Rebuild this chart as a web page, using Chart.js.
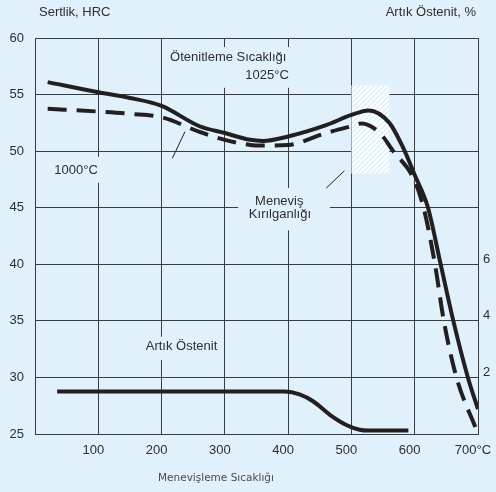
<!DOCTYPE html>
<html><head><meta charset="utf-8">
<script src="https://cdn.jsdelivr.net/npm/chart.js@4/dist/chart.umd.min.js"></script>
<style>
html,body{margin:0;padding:0;background:#e0f1fb;}
#wrap{width:496px;height:492px;position:relative;}
</style></head><body>
<div id="wrap"><canvas id="c" width="496" height="492"></canvas></div>
<script>
// ---- data ----
const temperatureTicks = [100, 200, 300, 400, 500, 600, 700];
const hardnessTicks = [25, 30, 35, 40, 45, 50, 55, 60];
const austeniteTicks = [2, 4, 6];

// Hardness after austenitizing at 1025°C (solid)
const temps1025 = [20, 100, 150, 200, 260, 300, 340, 360, 400, 460, 500, 527, 560, 580, 600, 621, 641, 661, 684, 700];
const hrc1025   = [56.1, 55.2, 54.7, 54.0, 52.2, 51.6, 51.0, 50.9, 51.3, 52.3, 53.2, 53.6, 52.5, 50.5, 47.9, 45.0, 40, 35.0, 30, 27.2];

// Hardness after austenitizing at 1000°C (dashed)
const temps1000 = [20, 100, 150, 200, 260, 300, 340, 360, 400, 460, 500, 516, 545, 566, 598, 614, 632, 646, 666, 698];
const hrc1000   = [53.75, 53.5, 53.3, 53.0, 51.7, 51.0, 50.55, 50.5, 50.55, 51.6, 52.2, 52.45, 51.6, 50.0, 47.6, 45, 40, 35, 30, 25.3];

// Retained austenite, % (right axis)
const tempsAustenite = [35, 395, 418, 440, 466, 492, 513, 526, 590];
const austenitePct   = [1.5, 1.5, 1.4, 1.15, 0.68, 0.32, 0.15, 0.12, 0.12];

// Temper embrittlement range (hatched)
const embrittlementTemps = [500, 560];
const embrittlementHrc = [48, 55.8];

// ---- annotations (data coordinates) ----
const textBoxes = [
  {x0: 210, x1: 403, y0: 55.6, y1: 59.2},
  {x0: 24, x1: 103, y0: 47.2, y1: 49.5},
  {x0: 321, x1: 466, y0: 43.0, y1: 46.75},
  {x0: 166, x1: 296, y0: 31.55, y1: 33.6}
];
const textLabels = [
  {text: 'Ötenitleme Sıcaklığı', x: 213.5, y: 58.29, align: 'left'},
  {text: '1025°C', x: 401, y: 56.7, align: 'right'},
  {text: '1000°C', x: 30.5, y: 48.33, align: 'left'},
  {text: 'Meneviş', x: 386, y: 45.53, align: 'center'},
  {text: 'Kırılganlığı', x: 387, y: 44.44, align: 'center'},
  {text: 'Artık Östenit', x: 175, y: 32.72, align: 'left'}
];
const leaders = [
  {x0: 217, y0: 49.37, x1: 237, y1: 51.72},
  {x0: 460, y0: 46.72, x1: 489, y1: 48.27}
];

const INK = '#231f20';
const TEXT = '#2e2e2e';
const GRID = '#3c3c3c';
const FONT = '"Liberation Sans", Arial, sans-serif';

function hatchPattern(ctx){
  const p = document.createElement('canvas');
  p.width = 5; p.height = 5;
  const g = p.getContext('2d');
  g.fillStyle = '#ffffff'; g.fillRect(0,0,5,5);
  g.strokeStyle = '#d8eefc'; g.lineWidth = 1.4;
  g.beginPath();
  g.moveTo(-1,6); g.lineTo(6,-1);
  g.moveTo(-4,4); g.lineTo(4,-4);
  g.moveTo(1,9); g.lineTo(9,1);
  g.stroke();
  return ctx.createPattern(p, 'repeat');
}

const annotate = {
  id: 'annotate',
  beforeDatasetsDraw(chart){
    const {ctx} = chart; const x = chart.scales.x, y = chart.scales.y;
    ctx.save();
    const hx0 = x.getPixelForValue(embrittlementTemps[0]), hx1 = x.getPixelForValue(embrittlementTemps[1]);
    const hy0 = y.getPixelForValue(embrittlementHrc[1]), hy1 = y.getPixelForValue(embrittlementHrc[0]);
    ctx.fillStyle = hatchPattern(ctx);
    ctx.fillRect(hx0, hy0, hx1-hx0, hy1-hy0);
    ctx.fillStyle = '#e0f1fb';
    textBoxes.forEach(b => {
      const a = x.getPixelForValue(b.x0), c = x.getPixelForValue(b.x1);
      const t = y.getPixelForValue(b.y1), d = y.getPixelForValue(b.y0);
      ctx.fillRect(a, t, c-a, d-t);
    });
    ctx.fillStyle = TEXT; ctx.font = '13px ' + FONT; ctx.textBaseline = 'middle';
    textLabels.forEach(l => {
      ctx.textAlign = l.align;
      ctx.fillText(l.text, x.getPixelForValue(l.x), y.getPixelForValue(l.y));
    });
    ctx.strokeStyle = INK; ctx.lineWidth = 1;
    leaders.forEach(l => {
      ctx.beginPath();
      ctx.moveTo(x.getPixelForValue(l.x0), y.getPixelForValue(l.y0));
      ctx.lineTo(x.getPixelForValue(l.x1), y.getPixelForValue(l.y1));
      ctx.stroke();
    });
    ctx.restore();
  },
  afterDraw(chart){
    const {ctx, chartArea} = chart;
    ctx.save();
    ctx.fillStyle = TEXT; ctx.font = '13px ' + FONT; ctx.textBaseline = 'middle';
    ctx.textAlign = 'left';
    ctx.fillText('Sertlik, HRC', chartArea.left + 4, 12);
    ctx.textAlign = 'right';
    ctx.fillText('Artık Östenit, %', chartArea.right - 2, 12);
    ctx.font = '10.5px "DejaVu Sans", sans-serif'; ctx.fillStyle = '#4a4a4a';
    ctx.textAlign = 'left';
    ctx.fillText('Menevişleme Sıcaklığı', 158, 478);
    ctx.restore();
  }
};

const toPts = (xs, ys) => xs.map((v, i) => ({x: v, y: ys[i]}));

new Chart(document.getElementById('c'), {
  type: 'line',
  data: {
    datasets: [
      {label: '1025°C', data: toPts(temps1025, hrc1025), yAxisID: 'y', borderColor: INK, borderWidth: 4, borderCapStyle: 'butt'},
      {label: '1000°C', data: toPts(temps1000, hrc1000), yAxisID: 'y', borderColor: INK, borderWidth: 4, borderDash: [19, 10], borderCapStyle: 'butt'},
      {label: 'Artık Östenit', data: toPts(tempsAustenite, austenitePct), yAxisID: 'y1', borderColor: INK, borderWidth: 4, borderCapStyle: 'butt'}
    ]
  },
  options: {
    responsive: false,
    animation: false,
    layout: {padding: {top: 38, left: 0, right: 0, bottom: 0}},
    elements: {point: {radius: 0}, line: {cubicInterpolationMode: 'monotone', fill: false}},
    plugins: {legend: {display: false}, title: {display: false}, tooltip: {enabled: false}},
    scales: {
      x: {
        type: 'linear', min: 0, max: 700,
        afterBuildTicks: s => { s.ticks = [0].concat(temperatureTicks).map(v => ({value: v})); },
        afterFit: s => { s.height = 58; s.paddingLeft = 0; s.paddingRight = 0; },
        grid: {color: GRID, lineWidth: 1, drawTicks: false},
        border: {color: GRID, width: 1},
        ticks: {
          padding: 9, labelOffset: -5, maxRotation: 0, autoSkip: false,
          color: TEXT, font: {family: FONT, size: 13},
          callback: v => v === 0 ? '' : (v === 700 ? '700°C' : String(v))
        }
      },
      y: {
        position: 'left', min: 25, max: 60,
        afterBuildTicks: s => { s.ticks = hardnessTicks.map(v => ({value: v})); },
        afterFit: s => { s.width = 35; s.paddingTop = 0; s.paddingBottom = 0; },
        grid: {color: GRID, lineWidth: 1, drawTicks: false},
        border: {color: GRID, width: 1},
        ticks: {padding: 11, color: TEXT, font: {family: FONT, size: 13}}
      },
      y1: {
        position: 'right', min: 0, max: 14,
        afterBuildTicks: s => { s.ticks = austeniteTicks.map(v => ({value: v})); },
        afterFit: s => { s.width = 18; s.paddingTop = 0; s.paddingBottom = 0; },
        grid: {display: false, drawTicks: false},
        border: {display: false},
        ticks: {padding: 5, labelOffset: -5, color: TEXT, font: {family: FONT, size: 13}}
      }
    }
  },
  plugins: [annotate]
});
</script>
</body></html>
